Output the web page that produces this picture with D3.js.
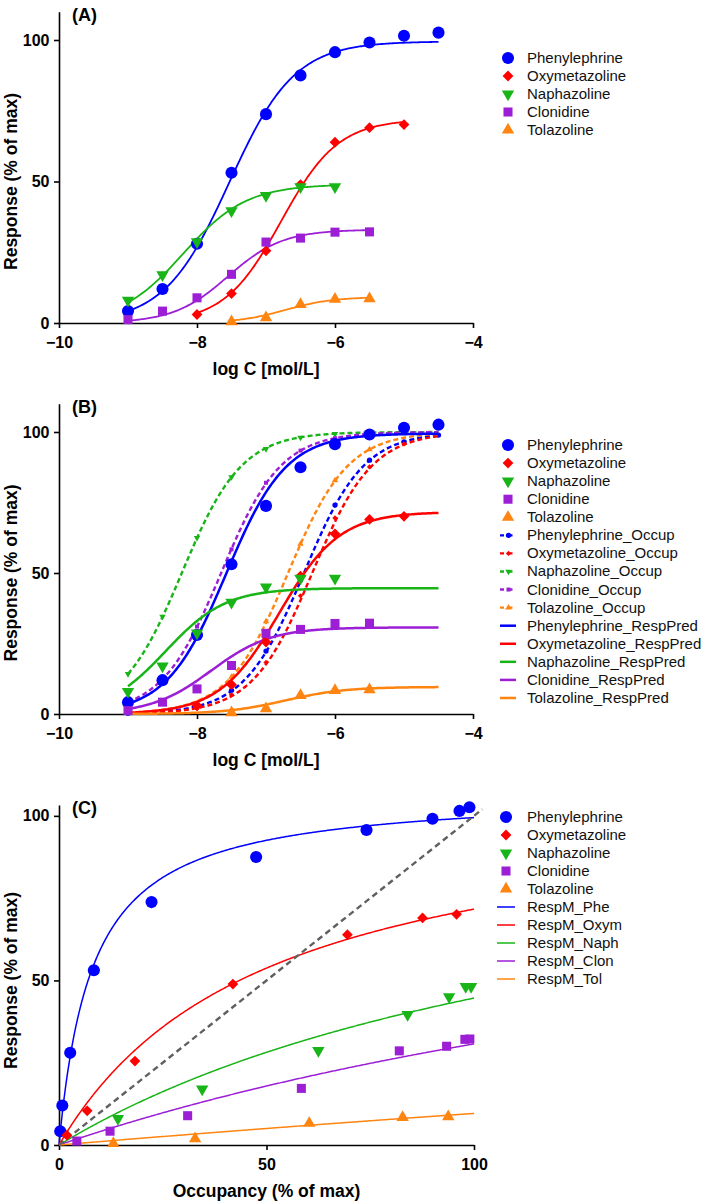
<!DOCTYPE html>
<html>
<head>
<meta charset="utf-8">
<script src="https://cdn.jsdelivr.net/npm/d3@7"></script>
<style>
  body { margin: 0; background: #fff; }
  svg text { font-family: Arial, "Liberation Sans", sans-serif; }
</style>
</head>
<body>
<svg id="chart" width="709" height="1203"></svg>
<script>
// drugs, colours and marker shapes
var drugNames = ["Phenylephrine", "Oxymetazoline", "Naphazoline", "Clonidine", "Tolazoline"];
var shortNames = ["Phe", "Oxym", "Naph", "Clon", "Tol"];
var colors = ["#0000ff", "#ff0000", "#18b418", "#9c1fd6", "#ff8410"];
var shapes = ["circle", "diamond", "triangleDown", "square", "triangleUp"];

// measured responses (% of max) at log C, and predicted occupancy (%)
var concPhe = [-9, -8.5, -8, -7.5, -7, -6.5, -6, -5.5, -5, -4.5];
var respPhe = [4.2, 12.0, 28.0, 53.1, 73.8, 87.5, 95.7, 99.1, 101.5, 102.6];
var occPhe  = [0.3, 0.8, 2.7, 8.4, 22.3, 47.5, 74.1, 90.0, 96.5, 98.9];

var concOxy = [-8, -7.5, -7, -6.5, -6, -5.5, -5];
var respOxy = [3.0, 10.4, 25.5, 48.9, 63.9, 69.0, 70.1];
var occOxy  = [1.9, 6.8, 18.3, 41.9, 69.5, 87.6, 95.8];

var concNaph = [-9, -8.5, -8, -7.5, -7, -6.5, -6];
var respNaph = [8.0, 17.0, 28.7, 39.6, 45.0, 48.1, 48.1];
var occNaph  = [14.2, 34.5, 62.5, 84.0, 94.0, 98.0, 99.3];

var concClon = [-9, -8.5, -8, -7.5, -7, -6.5, -6, -5.5];
var respClon = [1.2, 4.2, 8.9, 17.2, 28.6, 30.0, 32.1, 32.2];
var occClon  = [4.3, 12.3, 31.0, 58.4, 82.0, 93.4, 97.8, 99.0];

var concTol = [-7.5, -7, -6.5, -6, -5.5];
var respTol = [0.5, 1.9, 6.6, 8.4, 8.6];
var occTol  = [13.1, 32.8, 60.3, 82.8, 93.8];

// fitted parameters
var hillEmax   = [99.5, 72, 49, 33, 9.2];       // panel A sigmoid fits
var hillLogEC50 = [-7.53, -6.78, -8.2, -7.55, -6.72];
var hillSlope  = [0.92, 1.05, 0.95, 1.1, 1.25];
var occLogK    = [-6.45, -6.33, -8.22, -7.65, -6.68];  // occupancy curves
var opEmax = 107.5;                                  // response vs occupancy
var opTau  = [12.4, 2.0, 0.71, 0.40, 0.098];

// axis ticks
var logTicks = [-10, -8, -6, -4];
var respTicks = [0, 50, 100];
var occTicks = [0, 50, 100];
var logRangeB = [-9, -4.5];

var conc = [concPhe, concOxy, concNaph, concClon, concTol];
var resp = [respPhe, respOxy, respNaph, respClon, respTol];
var occ  = [occPhe, occOxy, occNaph, occClon, occTol];

var svg = d3.select("#chart");

function hill(x, i) { return hillEmax[i] / (1 + Math.pow(10, hillSlope[i] * (hillLogEC50[i] - x))); }
function occupancy(x, i) { return 100 / (1 + Math.pow(10, occLogK[i] - x)); }
function opResp(f, i) { var t = opTau[i] * f / 100; return opEmax * t / (1 + t); }

function symbolPath(shape, size) {
  var type = {circle: d3.symbolCircle, diamond: d3.symbolSquare, square: d3.symbolSquare,
              triangleDown: d3.symbolTriangle, triangleUp: d3.symbolTriangle}[shape];
  return d3.symbol().type(type).size(size)();
}
function symbolRot(shape) {
  if (shape == "diamond") return 45;
  if (shape == "triangleDown") return 180;
  return 0;
}
var bigSize = {circle: 115, diamond: 58, square: 82, triangleDown: 66, triangleUp: 66};
var smallSize = {circle: 22, diamond: 14, square: 16, triangleDown: 18, triangleUp: 18};

function drawMarkers(g, pts, x, y, i, sizes) {
  g.selectAll(null).data(pts).enter().append("path")
    .attr("d", symbolPath(shapes[i], sizes[shapes[i]]))
    .attr("transform", function(d) { return "translate(" + x(d[0]) + "," + y(d[1]) + ") rotate(" + symbolRot(shapes[i]) + ")"; })
    .attr("fill", colors[i]);
}

function drawAxes(g, x, y, xTicks, xTitle, letter) {
  var h = y.range()[0];
  var x0 = x.range()[0];
  var fmt = d3.format("d");
  var xa = g.append("g").attr("transform", "translate(0," + h + ")")
    .call(d3.axisBottom(x).tickValues(xTicks).tickFormat(fmt).tickSize(5).tickSizeOuter(0).tickPadding(8.5));
  var ya = g.append("g").attr("transform", "translate(" + x0 + ",0)")
    .call(d3.axisLeft(y).tickValues(respTicks).tickFormat(fmt).tickSize(5).tickSizeOuter(0).tickPadding(4.5));
  [xa, ya].forEach(function(a) {
    a.select(".domain").attr("stroke", "#000").attr("stroke-width", 1.6);
    a.selectAll(".tick line").attr("stroke", "#000").attr("stroke-width", 1.6);
    a.selectAll(".tick text").attr("fill", "#000").style("font-size", "16px").style("font-weight", "bold");
  });
  g.append("text").attr("x", (x.range()[0] + x.range()[1]) / 2).attr("y", h + 52)
    .attr("text-anchor", "middle").style("font-size", "17.5px").style("font-weight", "bold").text(xTitle);
  var mid = (y(0) + y(100)) / 2;
  g.append("text").attr("transform", "translate(17," + mid + ") rotate(-90)")
    .attr("text-anchor", "middle").style("font-size", "17.5px").style("font-weight", "bold").text("Response (% of max)");
  g.append("text").attr("x", 72).attr("y", y.range()[1] + 9).style("font-size", "18px")
    .style("font-weight", "bold").text(letter);
}

function legendRow(g, y0, label) {
  g.append("text").attr("x", 527).attr("y", y0 + 5).style("font-size", "15px").attr("fill", "#111").text(label);
}

var line = function(x, y) { return d3.line().x(function(d) { return x(d[0]); }).y(function(d) { return y(d[1]); }); };

// ---------- panel A ----------
(function() {
  var x = d3.scaleLinear().domain([-10, -4]).range([59, 473]);
  var y = d3.scaleLinear().domain([0, 110]).range([323, 11.7]);
  var g = svg.append("g");
  drawAxes(g, x, y, logTicks, "log C [mol/L]", "(A)");
  for (var i = 0; i < 5; i++) {
    var ext = d3.extent(conc[i]);
    var pts = d3.range(ext[0], ext[1] + 0.001, 0.02).map(function(v) { return [v, hill(v, i)]; });
    g.append("path").attr("d", line(x, y)(pts)).attr("fill", "none").attr("stroke", colors[i]).attr("stroke-width", 1.8);
  }
  for (var i = 0; i < 5; i++) {
    drawMarkers(g, conc[i].map(function(c, k) { return [c, resp[i][k]]; }), x, y, i, bigSize);
  }
  var lg = svg.append("g");
  drugNames.forEach(function(n, i) {
    var ly = 58 + i * 18;
    lg.append("path").attr("d", symbolPath(shapes[i], bigSize[shapes[i]]))
      .attr("transform", "translate(508," + ly + ") rotate(" + symbolRot(shapes[i]) + ")").attr("fill", colors[i]);
    legendRow(lg, ly, n);
  });
})();

// ---------- panel B ----------
(function() {
  var x = d3.scaleLinear().domain([-10, -4]).range([59, 473]);
  var y = d3.scaleLinear().domain([0, 110]).range([714, 403.8]);
  var g = svg.append("g");
  drawAxes(g, x, y, logTicks, "log C [mol/L]", "(B)");
  var xs = d3.range(logRangeB[0], logRangeB[1] + 0.001, 0.02);
  for (var i = 0; i < 5; i++) {
    var occPts = xs.map(function(v) { return [v, occupancy(v, i)]; });
    g.append("path").attr("d", line(x, y)(occPts)).attr("fill", "none").attr("stroke", colors[i])
      .attr("stroke-width", 2.4).attr("stroke-dasharray", "5,3");
    drawMarkers(g, conc[i].map(function(c, k) { return [c, occ[i][k]]; }), x, y, i, smallSize);
  }
  for (var i = 0; i < 5; i++) {
    var rPts = xs.map(function(v) { return [v, opResp(occupancy(v, i), i)]; });
    g.append("path").attr("d", line(x, y)(rPts)).attr("fill", "none").attr("stroke", colors[i]).attr("stroke-width", 2.5);
  }
  for (var i = 0; i < 5; i++) {
    drawMarkers(g, conc[i].map(function(c, k) { return [c, resp[i][k]]; }), x, y, i, bigSize);
  }
  var lg = svg.append("g");
  var step = 18.07, top = 445;
  drugNames.forEach(function(n, i) {
    var ly = top + i * step;
    lg.append("path").attr("d", symbolPath(shapes[i], bigSize[shapes[i]]))
      .attr("transform", "translate(508," + ly + ") rotate(" + symbolRot(shapes[i]) + ")").attr("fill", colors[i]);
    legendRow(lg, ly, n);
  });
  drugNames.forEach(function(n, i) {
    var ly = top + (i + 5) * step;
    lg.append("line").attr("x1", 500).attr("x2", 517).attr("y1", ly).attr("y2", ly)
      .attr("stroke", colors[i]).attr("stroke-width", 2.4).attr("stroke-dasharray", "4,4.5");
    lg.append("path").attr("d", symbolPath(shapes[i], smallSize[shapes[i]]))
      .attr("transform", "translate(508.5," + ly + ") rotate(" + symbolRot(shapes[i]) + ")").attr("fill", colors[i]);
    legendRow(lg, ly, n + "_Occup");
  });
  drugNames.forEach(function(n, i) {
    var ly = top + (i + 10) * step;
    lg.append("line").attr("x1", 500).attr("x2", 516).attr("y1", ly).attr("y2", ly)
      .attr("stroke", colors[i]).attr("stroke-width", 2.5);
    legendRow(lg, ly, n + "_RespPred");
  });
})();

// ---------- panel C ----------
(function() {
  var x = d3.scaleLinear().domain([0, 100]).range([59, 474]);
  var y = d3.scaleLinear().domain([0, 103.3]).range([1145, 805]);
  var g = svg.append("g");
  drawAxes(g, x, y, occTicks, "Occupancy (% of max)", "(C)");
  var fs = d3.range(0, 100.001, 0.25);
  for (var i = 0; i < 5; i++) {
    var pts = fs.map(function(f) { return [f, opResp(f, i)]; });
    g.append("path").attr("d", line(x, y)(pts)).attr("fill", "none").attr("stroke", colors[i]).attr("stroke-width", 1.5);
  }
  g.append("path").attr("d", line(x, y)([[0, 0], [102, 102]])).attr("fill", "none")
    .attr("stroke", "#606060").attr("stroke-width", 2.4).attr("stroke-dasharray", "6,4");
  for (var i = 0; i < 5; i++) {
    drawMarkers(g, occ[i].map(function(o, k) { return [o, resp[i][k]]; }), x, y, i, bigSize);
  }
  var lg = svg.append("g");
  var top = 817, step = 18;
  drugNames.forEach(function(n, i) {
    var ly = top + i * step;
    lg.append("path").attr("d", symbolPath(shapes[i], bigSize[shapes[i]]))
      .attr("transform", "translate(506," + ly + ") rotate(" + symbolRot(shapes[i]) + ")").attr("fill", colors[i]);
    legendRow(lg, ly, n);
  });
  shortNames.forEach(function(n, i) {
    var ly = top + (i + 5) * step;
    lg.append("line").attr("x1", 497).attr("x2", 515).attr("y1", ly).attr("y2", ly)
      .attr("stroke", colors[i]).attr("stroke-width", 1.5);
    legendRow(lg, ly, "RespM_" + n);
  });
})();
</script>
</body>
</html>
